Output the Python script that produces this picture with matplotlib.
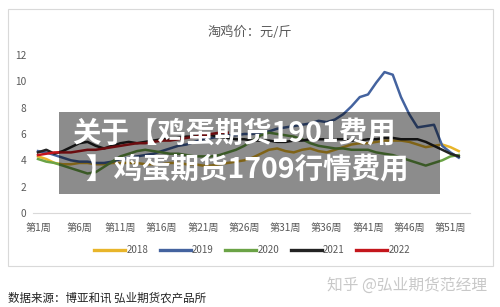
import matplotlib
matplotlib.use('Agg')
import matplotlib.pyplot as plt
from matplotlib.patches import Rectangle

plt.rcParams['font.family'] = ['Noto Sans CJK SC', 'DejaVu Sans']

weeks = list(range(1, 53))
years = ['2018', '2019', '2020', '2021', '2022']
colors = ['#E8B52A', '#44639F', '#6BA346', '#232323', '#C4161C']

y2018 = [4.3, 4.1, 3.8, 3.7, 3.7, 3.8, 3.8, 3.7, 3.7, 3.8, 3.8, 3.8, 3.8, 3.7,
         3.7, 3.7, 3.8, 3.8, 3.7, 3.7, 3.6, 3.6, 3.7, 3.8, 3.9, 4.0, 4.2, 4.5,
         4.8, 4.9, 4.7, 4.6, 4.8, 4.9, 4.7, 4.6, 4.8, 5.0, 5.2, 5.3, 5.3, 5.4,
         5.5, 5.5, 5.5, 5.4, 5.2, 5.0, 5.1, 5.2, 5.0, 4.7]
y2019 = [4.7, 4.6, 4.4, 4.2, 4.0, 3.9, 3.9, 3.8, 3.8, 3.9, 4.1, 4.2, 4.3, 4.4,
         4.5, 4.7, 4.9, 5.1, 5.2, 5.4, 5.6, 5.7, 5.8, 5.9, 5.9, 6.0, 6.0, 6.1,
         6.2, 6.4, 6.5, 6.6, 6.7, 6.8, 7.0, 6.9, 7.1, 7.5, 8.1, 8.8, 9.0, 9.9,
         10.7, 10.5, 8.8, 7.5, 6.5, 6.6, 6.7, 5.1, 4.6, 4.2]
y2020 = [4.1, 3.9, 3.8, 3.6, 3.4, 3.2, 3.0, 3.1, 3.5, 3.9, 4.3, 4.5, 4.7, 4.8,
         4.7, 4.6, 4.5, 4.5, 4.4, 4.3, 4.3, 4.3, 4.4, 4.6, 4.8, 5.1, 5.5, 5.9,
         6.1, 6.0, 5.9, 5.8, 5.6, 5.3, 5.1, 5.0, 4.9, 4.9, 4.8, 4.8, 4.8, 4.6,
         4.5, 4.4, 4.2, 4.0, 3.8, 3.6, 3.8, 4.0, 4.3, 4.4]
y2021 = [4.6, 4.8, 4.5, 4.7, 5.0, 5.3, 5.4, 5.1, 4.9, 5.1, 5.3, 5.4, 5.3, 5.4,
         5.5, 5.6, 5.6, 5.7, 5.8, 5.8, 5.9, 5.9, 5.8, 5.7, 5.6, 5.6, 5.5, 5.5,
         5.5, 5.4, 5.4, 5.5, 5.5, 5.6, 5.6, 5.6, 5.6, 5.6, 5.5, 5.5, 5.6, 5.6,
         5.7, 5.7, 5.6, 5.6, 5.6, 5.4, 5.1, 4.8, 4.5, 4.3]
y2022 = [4.4, 4.5, 4.6, 4.6, 4.6, 4.7, 4.8, 4.8, 4.9, 5.0, 5.1, 5.2, 5.3, 5.3,
         5.4, 5.5, 5.5, 5.6, 5.7, 5.8, 5.9, 6.0, 6.1, 6.1]

xticks = [1, 6, 11, 16, 21, 26, 31, 36, 41, 46, 51]
xlabels = ['第%d周' % w for w in xticks]

fig = plt.figure(figsize=(5, 3.07), dpi=100)
fig.patch.set_facecolor('white')
fig.add_artist(Rectangle((8 / 500, 1 - 266 / 307), 485 / 500, 257 / 307,
                         transform=fig.transFigure, fill=False,
                         edgecolor='#d9d9d9', linewidth=0.8))

ax = fig.add_axes([33 / 500, 1 - 213 / 307, 437 / 500, 12.5 * 13.17 / 307])
series = [y2018, y2019, y2020, y2021, y2022]
for name, vals, c in zip(years, series, colors):
    ax.plot(weeks[:len(vals)], vals, color=c, linewidth=1.8, label=name)

ax.set_xlim(1 - 5 / 8.25, 1 + 432 / 8.25)
ax.set_ylim(0, 12.5)
ax.set_yticks([0, 2, 4, 6, 8, 10, 12])
ax.set_xticks(xticks)
ax.set_xticklabels(xlabels)
for s in ['top', 'right', 'left']:
    ax.spines[s].set_visible(False)
ax.spines['bottom'].set_color('#d9d9d9')
ax.tick_params(length=0, labelsize=7.3, colors='#595959')
ax.tick_params(axis='y', pad=5)
ax.tick_params(axis='x', pad=7)

fig.text(250 / 500, 1 - 32 / 307, '淘鸡价：元/斤', ha='center', va='center',
         fontsize=9.5, color='#595959')

leg = fig.legend(loc='center', bbox_to_anchor=(252 / 500, 1 - 250 / 307), ncol=5,
                 frameon=False, fontsize=7, handlelength=3.2, handletextpad=0.1,
                 columnspacing=1.2, labelcolor='#595959')
for h in leg.get_lines():
    h.set_linewidth(2.4)

# grey banner over the chart
fig.add_artist(Rectangle((59 / 500, 1 - 194 / 307), 381 / 500, 82 / 307,
                         transform=fig.transFigure, facecolor='black',
                         alpha=0.45, edgecolor='none'))
fig.text(72 / 500, 1 - 134 / 307, '关于【鸡蛋期货1901费用', ha='left', va='center',
         fontsize=20.5, fontweight='heavy', color='white')
fig.text(85 / 500, 1 - 170 / 307, '】鸡蛋期货1709行情费用', ha='left', va='center',
         fontsize=20.5, fontweight='heavy', color='white')

fig.text(8 / 500, 1 - 298 / 307, '数据来源：博亚和讯 弘业期货农产品所', ha='left',
         va='center', fontsize=8.3, fontweight='medium', color='#222222')
fig.text(487 / 500, 1 - 285 / 307, '知乎 @弘业期货范经理', ha='right', va='center',
         fontsize=11.3, color='#c8c8c8')

plt.savefig('out.png', dpi=100)
